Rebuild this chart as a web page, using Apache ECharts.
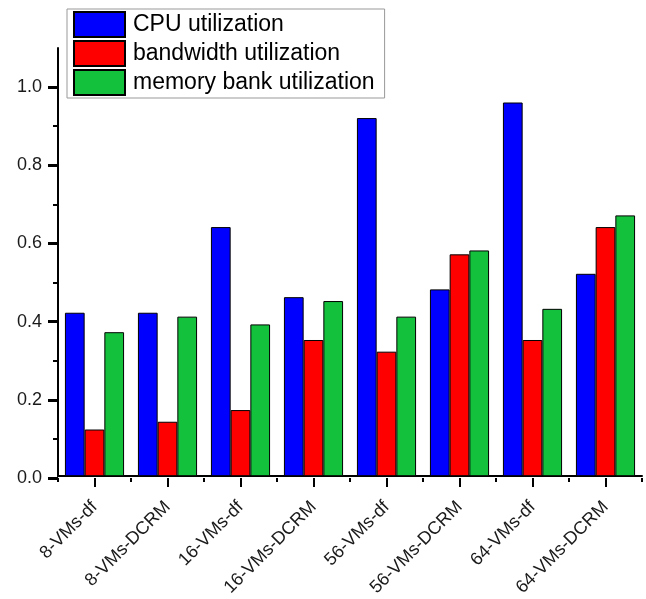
<!DOCTYPE html>
<html><head><meta charset="utf-8">
<script src="https://cdn.jsdelivr.net/npm/echarts@6/dist/echarts.min.js"></script>
<style>html,body{margin:0;padding:0;background:#fff}#c{width:646px;height:599px}</style>
</head><body><div id="c"></div>
<script>
const categories = ['8-VMs-df','8-VMs-DCRM','16-VMs-df','16-VMs-DCRM','56-VMs-df','56-VMs-DCRM','64-VMs-df','64-VMs-DCRM'];
const cpuUtil = [0.42, 0.42, 0.64, 0.46, 0.92, 0.48, 0.96, 0.52];
const bwUtil = [0.12, 0.14, 0.17, 0.35, 0.32, 0.57, 0.35, 0.64];
const memUtil = [0.37, 0.41, 0.39, 0.45, 0.41, 0.58, 0.43, 0.67];
const seriesNames = ['CPU utilization','bandwidth utilization','memory bank utilization'];
const yMax = 1.1, yTickMax = 1.0, yMajor = 0.2, yMinor = 0.1;

const font = 'Arial, "Liberation Sans", sans-serif';
const colors = ['#0000ff', '#ff0000', '#13c13d'];
const chart = echarts.init(document.getElementById('c'));
const mk = (name, data, i) => ({
  name, type: 'bar', data, xAxisIndex: 0, yAxisIndex: 0,
  barGap: '0%', barCategoryGap: '19%',
  itemStyle: { color: colors[i], borderColor: '#000', borderWidth: 1 }
});
const tickStyle = { color: '#000', width: 2 };
const majStyle = { color: '#000', width: 3 };
const W = 646, H = 599, left0 = 58, right0 = 4, top0 = 48, bottom0 = 121;
const plotH = H - top0 - bottom0;
const catW = (W - left0 - right0) / categories.length;
const tickTop = H - bottom0 - plotH * yTickMax / yMax;
const mainGrid = { left: left0, right: right0, top: top0, bottom: bottom0, containLabel: false };
const tickGrid = { left: left0, right: right0, top: tickTop, bottom: bottom0, containLabel: false };
const yMajGrid = { left: left0 - 10, width: 10, top: tickTop, bottom: bottom0, containLabel: false };
const xCenGrid = { left: left0 + catW / 2, right: right0 + catW / 2, top: H - bottom0, height: 9, containLabel: false };
const xBndGrid = { left: left0, right: right0, top: H - bottom0, height: 4, containLabel: false };

const hiddenValue = g => ({ type: 'value', gridIndex: g, show: false, min: 0, max: 1 });
const splitValue = (g, max, step, style) => ({
  type: 'value', gridIndex: g, min: 0, max, interval: step,
  axisLine: { show: false }, axisTick: { show: false }, axisLabel: { show: false },
  splitLine: { show: true, lineStyle: style }
});
chart.setOption({
  animation: false,
  grid: [mainGrid, tickGrid, yMajGrid, xCenGrid, xBndGrid],
  legend: {
    orient: 'vertical', left: 67, top: 9,
    itemWidth: 51, itemHeight: 25, itemGap: 2,
    padding: [2, 10, 2, 6],
    borderColor: '#999', borderWidth: 1,
    icon: 'rect',
    textStyle: { fontFamily: font, fontSize: 23, color: '#000', padding: [0, 0, 0, 3] },
    data: seriesNames
  },
  xAxis: [{
    type: 'category', gridIndex: 0, data: categories,
    axisLine: { lineStyle: { color: '#000', width: 2 } },
    axisTick: { show: false },
    axisLabel: { rotate: 45, fontFamily: font, fontSize: 18, color: '#1a1a1a', margin: 28, interval: 0 }
  }, hiddenValue(1), hiddenValue(2),
    splitValue(3, categories.length - 1, 1, tickStyle), splitValue(4, categories.length, 1, tickStyle)],
  yAxis: [{
    type: 'value', gridIndex: 0, min: 0, max: yMax,
    axisLine: { show: true, lineStyle: { color: '#000', width: 2 } },
    axisTick: { show: false },
    axisLabel: { show: false },
    splitLine: { show: false }
  }, {
    type: 'value', gridIndex: 1, min: 0, max: yTickMax, interval: yMinor,
    axisLine: { show: false },
    axisTick: { show: true, length: 5, lineStyle: tickStyle },
    axisLabel: { show: true, fontFamily: font, fontSize: 18, color: '#1a1a1a', margin: 16,
      formatter: v => (Math.round(v * 10) % 2 === 0 ? v.toFixed(1) : '') },
    splitLine: { show: false }
  }, splitValue(2, yTickMax, yMajor, majStyle), hiddenValue(3), hiddenValue(4)],
  series: [mk(seriesNames[0], cpuUtil, 0), mk(seriesNames[1], bwUtil, 1), mk(seriesNames[2], memUtil, 2)]
});
</script></body></html>
